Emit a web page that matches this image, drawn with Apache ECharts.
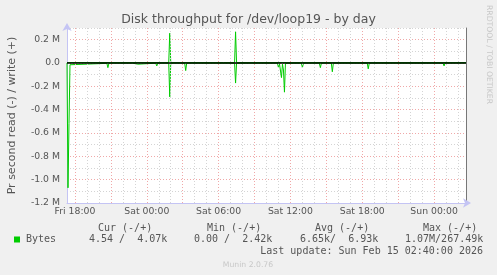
<!DOCTYPE html>
<html><head><meta charset="utf-8">
<script src="https://cdn.jsdelivr.net/npm/echarts@6/dist/echarts.min.js"></script>
<style>html,body{margin:0;padding:0;background:#f0f0f0;}#c{width:497px;height:275px;}</style>
</head><body><div id="c"></div>
<script>
// ---- data (bytes per second) ----
const timeStart = '2026-02-13 17:20';
const timeEnd = '2026-02-15 02:40';
const xTickTimes = ['2026-02-13 18:00','2026-02-14 00:00','2026-02-14 06:00','2026-02-14 12:00','2026-02-14 18:00','2026-02-15 00:00'];
const xTickLabels = ['Fri 18:00','Sat 00:00','Sat 06:00','Sat 12:00','Sat 18:00','Sun 00:00'];
const yTickValues = [-1200000,-1000000,-800000,-600000,-400000,-200000,0,200000];
const yTickLabels = ['-1.2 M','-1.0 M','-0.8 M','-0.6 M','-0.4 M','-0.2 M','0.0','0.2 M'];
// read (plotted below zero)
const readPoints = [
 ['2026-02-13 17:20',0],['2026-02-13 17:25',1070000],['2026-02-13 17:30',520000],['2026-02-13 17:35',15000],
 ['2026-02-13 17:40',3000],['2026-02-13 20:40',3000],['2026-02-13 20:45',40000],['2026-02-13 20:50',2000],
 ['2026-02-13 22:50',2000],['2026-02-13 22:55',10000],['2026-02-13 23:15',10000],['2026-02-13 23:20',2000],
 ['2026-02-14 00:45',2000],['2026-02-14 00:50',25000],['2026-02-14 00:55',2000],
 ['2026-02-14 01:50',2000],['2026-02-14 01:55',290000],['2026-02-14 02:00',2000],
 ['2026-02-14 03:10',2000],['2026-02-14 03:15',65000],['2026-02-14 03:20',2000],
 ['2026-02-14 07:20',2000],['2026-02-14 07:25',172000],['2026-02-14 07:30',2000],
 ['2026-02-14 08:40',2000],['2026-02-14 08:45',8000],['2026-02-14 08:50',2000],
 ['2026-02-14 10:55',2000],['2026-02-14 11:00',40000],['2026-02-14 11:05',5000],['2026-02-14 11:10',20000],
 ['2026-02-14 11:15',125000],['2026-02-14 11:20',10000],['2026-02-14 11:25',60000],['2026-02-14 11:30',250000],
 ['2026-02-14 11:35',3000],['2026-02-14 12:55',2000],['2026-02-14 13:00',40000],['2026-02-14 13:05',2000],
 ['2026-02-14 14:25',2000],['2026-02-14 14:30',40000],['2026-02-14 14:35',2000],
 ['2026-02-14 15:25',2000],['2026-02-14 15:30',75000],['2026-02-14 15:35',2000],
 ['2026-02-14 18:25',2000],['2026-02-14 18:30',50000],['2026-02-14 18:35',2000],
 ['2026-02-14 18:55',2000],['2026-02-14 19:00',12000],['2026-02-14 19:05',2000],
 ['2026-02-14 19:25',2000],['2026-02-14 19:30',8000],['2026-02-14 19:35',2000],
 ['2026-02-14 23:20',2000],['2026-02-14 23:25',6000],['2026-02-14 23:30',2000],
 ['2026-02-15 00:45',2000],['2026-02-15 00:50',25000],['2026-02-15 00:55',2000],['2026-02-15 02:40',5]
];
// write (plotted above zero)
const writePoints = [
 ['2026-02-13 17:20',4000],['2026-02-14 01:50',4000],['2026-02-14 01:55',255000],['2026-02-14 02:00',4000],
 ['2026-02-14 06:25',4000],['2026-02-14 06:30',15000],['2026-02-14 06:35',4000],
 ['2026-02-14 07:20',4000],['2026-02-14 07:25',267490],['2026-02-14 07:30',4000],
 ['2026-02-15 00:45',4000],['2026-02-15 00:50',15000],['2026-02-15 00:55',4000],['2026-02-15 02:40',4070]
];
const legendHeaders = ['Cur (-/+)','Min (-/+)','Avg (-/+)','Max (-/+)'];
const legendValues = ['4.54 /  4.07k','0.00 /  2.42k','6.65k/  6.93k','1.07M/267.49k'];
const seriesName = 'Bytes';
const lastUpdate = 'Last update: Sun Feb 15 02:40:00 2026';

// ---- helpers ----
function ts(s){const m=s.match(/(\d+)-(\d+)-(\d+) (\d+):(\d+)/);return new Date(+m[1],m[2]-1,+m[3],+m[4],+m[5]).getTime();}
const t0 = ts(timeStart), t1 = ts(timeEnd);
const hourLines = [];
for (let t = ts('2026-02-13 18:00'); t < t1; t += 3600000) {
  const h = new Date(t).getHours();
  hourLines.push({xAxis: t, lineStyle: {color: h % 3 === 0 ? '#f0a8a8' : '#d4d4d4', type: [1,2], width: 1}});
}
const tickTs = xTickTimes.map(ts);
const GREEN = '#00cc00', TXT = '#555';

const chart = echarts.init(document.getElementById('c'), null, {renderer:'canvas'});
const mono = 'DejaVu Sans Mono';
const graphics = [
  {type:'text', left:'center', top:13, style:{text:'Disk throughput for /dev/loop19 - by day', font:'12.5px "DejaVu Sans"', fill:TXT}},
  {type:'text', x:485, y:5, rotation:-Math.PI/2, style:{text:'RRDTOOL / TOBI OETIKER', font:'7.7px "DejaVu Sans"', fill:'#c8c8c8', textVerticalAlign:'bottom'}},
  {type:'text', x:248, y:265, style:{text:'Munin 2.0.76', font:'7.7px "DejaVu Sans"', fill:'#c8c8c8', textAlign:'center', textVerticalAlign:'middle'}},
  {type:'rect', shape:{x:14, y:236.5, width:6, height:6}, style:{fill:GREEN}},
  {type:'text', x:26, y:239.5, style:{text:seriesName, font:'10px "'+mono+'"', fill:TXT, textVerticalAlign:'middle'}},
  {type:'text', x:483, y:251.5, style:{text:lastUpdate, font:'10px "'+mono+'"', fill:TXT, textAlign:'right', textVerticalAlign:'middle'}}
];
const hx = [98,207,315,423], vx = [89,194,300,405];
legendHeaders.forEach((h,i)=>graphics.push({type:'text', x:hx[i], y:228, style:{text:h, font:'10px "'+mono+'"', fill:TXT, textVerticalAlign:'middle'}}));
legendValues.forEach((v,i)=>graphics.push({type:'text', x:vx[i], y:239.5, style:{text:v, font:'10px "'+mono+'"', fill:TXT, textVerticalAlign:'middle'}}));

chart.setOption({
  animation:false,
  backgroundColor:'#f0f0f0',
  textStyle:{fontFamily:'DejaVu Sans'},
  grid:{left:67, right:31, top:28, bottom:72, show:true, backgroundColor:'#ffffff', borderWidth:0, containLabel:false, outerBoundsMode:'none'},
  xAxis:{type:'value', min:t0, max:t1, scale:true,
    axisLine:{show:true, onZero:false, lineStyle:{color:'#c4c4f4', width:1}, symbol:['none','arrow'], symbolSize:[7,8], symbolOffset:[0,5]},
    axisTick:{show:false}, splitLine:{show:false},
    axisLabel:{customValues:tickTs, margin:4, fontSize:9.3, color:TXT, fontFamily:'DejaVu Sans',
      formatter:(v)=>{const i=tickTs.findIndex(x=>Math.abs(x-v)<1000);return i>=0?xTickLabels[i]:'';}}},
  yAxis:[{type:'value', min:-1200000, max:300000, interval:100000,
    name:'Pr second read (-) / write (+)', nameLocation:'middle', nameGap:49,
    nameTextStyle:{fontSize:11, color:TXT, fontFamily:'DejaVu Sans'},
    axisLine:{show:true, lineStyle:{color:'#c4c4f4', width:1}, symbol:['none','arrow'], symbolSize:[7,8], symbolOffset:[0,5]},
    axisTick:{show:false},
    splitLine:{show:true, lineStyle:{color:['#f0a8a8','#d4d4d4'], type:[1,2], width:1}},
    axisLabel:{customValues:yTickValues, margin:7, fontSize:9.3, color:TXT, fontFamily:'DejaVu Sans',
      formatter:(v)=>{const i=yTickValues.findIndex(x=>Math.abs(x-v)<1);return i>=0?yTickLabels[i]:'';}}},
   {type:'value', position:'right', min:-1200000, max:300000,
    axisLine:{show:true, onZero:false, lineStyle:{color:'#777', width:1}}, axisTick:{show:false}, axisLabel:{show:false}, splitLine:{show:false}}],
  graphic:graphics,
  series:[
    {type:'line', name:'grid', data:[], z:1, silent:true,
     markLine:{silent:true, symbol:['none','none'], label:{show:false}, animation:false,
       data: hourLines.concat([{yAxis:0, lineStyle:{color:'#000', type:'solid', width:1.5}}])}},
    {type:'line', name:'read', z:3, data:readPoints.map(p=>[ts(p[0]), -p[1]]), showSymbol:false, lineStyle:{color:GREEN, width:1}, itemStyle:{color:GREEN}},
    {type:'line', name:'write', z:3, data:writePoints.map(p=>[ts(p[0]), p[1]]), showSymbol:false, lineStyle:{color:GREEN, width:1}, itemStyle:{color:GREEN}}
  ]
});
</script></body></html>
